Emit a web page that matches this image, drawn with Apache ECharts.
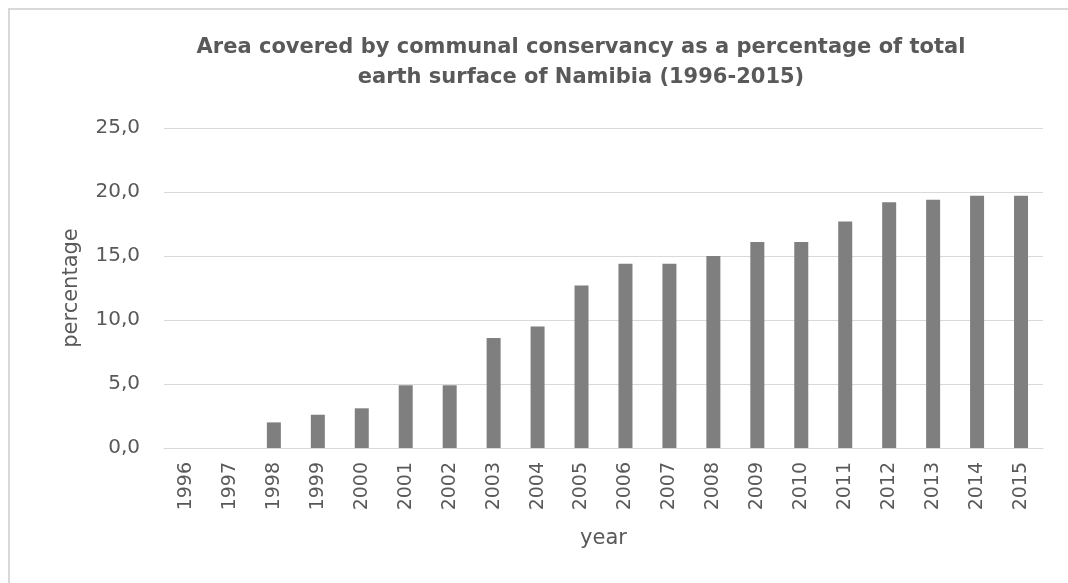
<!DOCTYPE html>
<html>
<head>
<meta charset="utf-8">
<script src="https://cdn.jsdelivr.net/npm/echarts@6/dist/echarts.min.js"></script>
<style>html,body{margin:0;padding:0;background:#fff;}#c{width:1068px;height:583px;}</style>
</head>
<body>
<div id="c"></div>
<script>
const years = ['1996','1997','1998','1999','2000','2001','2002','2003','2004','2005','2006','2007','2008','2009','2010','2011','2012','2013','2014','2015'];
const percentage = [0, 0, 2.0, 2.6, 3.1, 4.9, 4.9, 8.6, 9.5, 12.7, 14.4, 14.4, 15.0, 16.1, 16.1, 17.7, 19.2, 19.4, 19.7, 19.7];
const titleLines = ['Area covered by communal conservancy as a percentage of total', 'earth surface of Namibia (1996-2015)'];

const chart = echarts.init(document.getElementById('c'), null, {renderer: 'canvas'});
const font = '"DejaVu Sans", sans-serif';
chart.setOption({
  animation: false,
  backgroundColor: '#fff',
  title: {
    text: titleLines.join('\n'),
    left: 576, top: 28, textAlign: 'center',
    textStyle: {fontFamily: font, fontSize: 21, fontWeight: 'bold', color: '#595959', lineHeight: 30}
  },
  graphic: [{
    type: 'rect', shape: {x: 9, y: 9, width: 1300, height: 800},
    style: {fill: 'none', stroke: '#d9d9d9', lineWidth: 2}, silent: true
  }],
  grid: {left: 164, right: 25, top: 128, bottom: 135},
  xAxis: {
    type: 'category', data: years,
    name: 'year', nameLocation: 'middle', nameGap: 80,
    nameTextStyle: {fontFamily: font, fontSize: 21, color: '#595959'},
    axisLine: {lineStyle: {color: '#d9d9d9', width: 1}},
    axisTick: {show: false},
    axisLabel: {rotate: 90, fontFamily: font, fontSize: 19, color: '#595959', margin: 14}
  },
  yAxis: {
    type: 'value', min: 0, max: 25, interval: 5,
    name: 'percentage', nameLocation: 'middle', nameGap: 82,
    nameTextStyle: {fontFamily: font, fontSize: 21, color: '#595959'},
    axisLine: {show: false}, axisTick: {show: false},
    axisLabel: {fontFamily: font, fontSize: 20, color: '#595959', margin: 24,
      formatter: v => v.toFixed(1).replace('.', ',')},
    splitLine: {lineStyle: {color: '#d9d9d9', width: 1}}
  },
  series: [{
    type: 'bar', data: percentage, barWidth: 14,
    itemStyle: {color: '#7f7f7f'}
  }]
});
</script>
</body>
</html>
